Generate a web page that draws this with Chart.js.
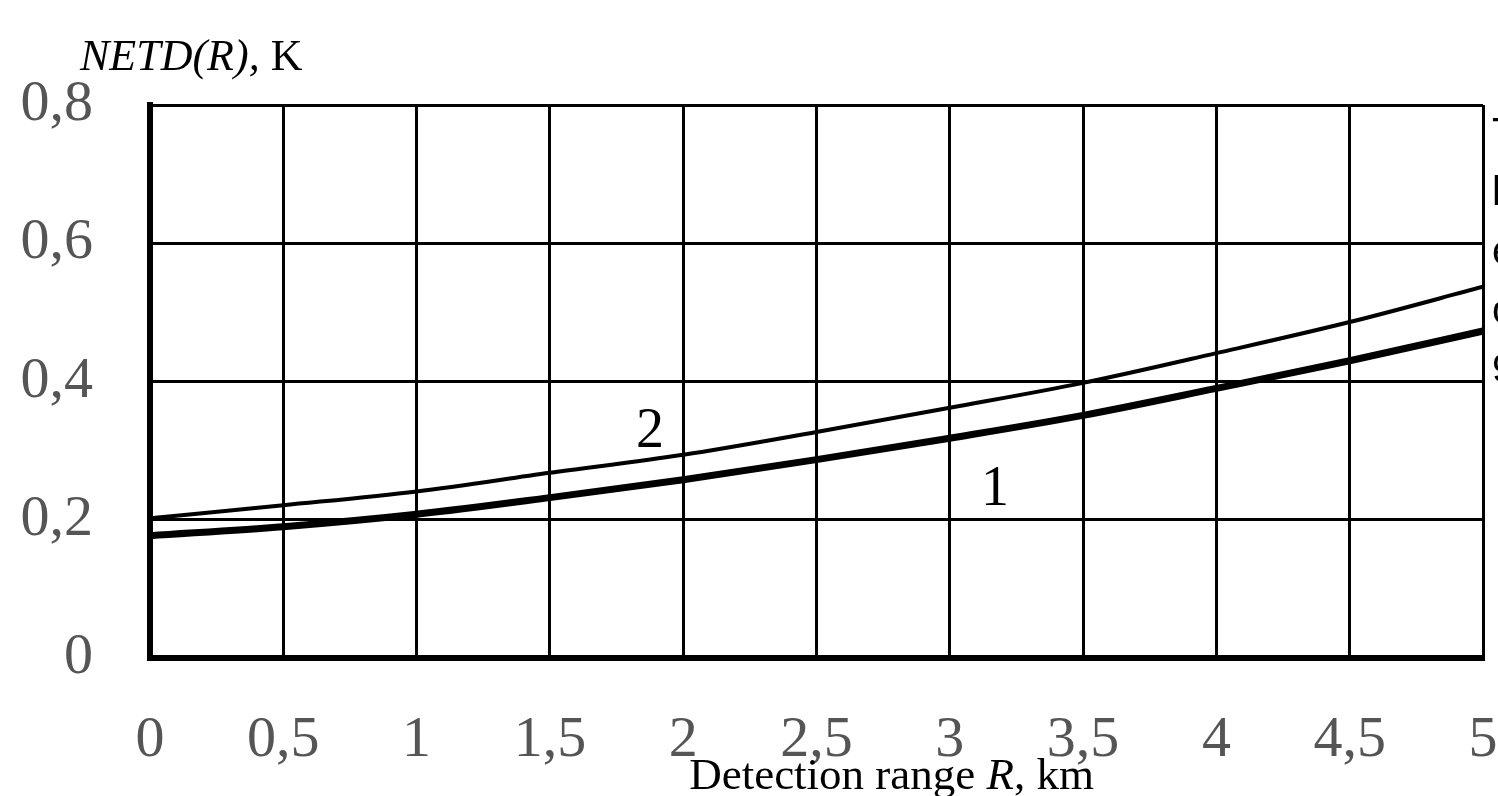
<!DOCTYPE html>
<html>
<head>
<meta charset="utf-8">
<script src="https://cdn.jsdelivr.net/npm/chart.js@4.4.1/dist/chart.umd.min.js"></script>
<style>
html, body { margin: 0; padding: 0; background: #fff; }
</style>
</head>
<body>
<canvas id="netdChart" width="1498" height="796"></canvas>
<script>
// detection range, km
var rangeKm = [0, 0.5, 1, 1.5, 2, 2.5, 3, 3.5, 4, 4.5, 5];
// NETD(R), K - curve 1 (thick) and curve 2 (thin)
var netdCurve1 = [0.177, 0.190, 0.208, 0.232, 0.258, 0.287, 0.318, 0.351, 0.390, 0.430, 0.473];
var netdCurve2 = [0.202, 0.221, 0.241, 0.268, 0.294, 0.327, 0.362, 0.398, 0.441, 0.486, 0.537];

var xTickLabels = ['0', '0,5', '1', '1,5', '2', '2,5', '3', '3,5', '4', '4,5', '5'];
var yTickLabels = ['0', '0,2', '0,4', '0,6', '0,8'];

// curve numbers placed in data coordinates
var curveTags = [
    { text: '1', x: 3.17, y: 0.242 },
    { text: '2', x: 1.875, y: 0.326 }
];
// letters of the neighbouring text column, cut by the right edge
var edgeLetters = ['T', 'h', 'e', 'o', '9'];

var serif = '"Liberation Serif", "Times New Roman", serif';

function toPoints(xs, ys) {
    return xs.map(function(x, i) { return { x: x, y: ys[i] }; });
}

function drawRuns(ctx, runs, size, x, y) {
    runs.forEach(function(r) {
        ctx.font = r.style + ' ' + size + 'px ' + serif;
        ctx.fillText(r.t, x, y);
        x += ctx.measureText(r.t).width;
    });
}

var textPlugin = {
    id: 'figureText',
    afterDraw: function(chart) {
        var ctx = chart.ctx;
        var xs = chart.scales.x;
        var ys = chart.scales.y;
        var area = chart.chartArea;
        ctx.save();
        ctx.fillStyle = '#000';
        ctx.textAlign = 'left';
        ctx.textBaseline = 'alphabetic';

        drawRuns(ctx, [
            { t: 'NETD(R),', style: 'italic' },
            { t: ' K', style: 'normal' }
        ], 44, area.left - 70, 70);

        drawRuns(ctx, [
            { t: 'Detection range ', style: 'normal' },
            { t: 'R', style: 'italic' },
            { t: ', km', style: 'normal' }
        ], 45, xs.getPixelForValue(2) + 6, 789);

        ctx.font = '56px ' + serif;
        ctx.textAlign = 'center';
        ctx.textBaseline = 'middle';
        curveTags.forEach(function(tag) {
            ctx.fillText(tag.text, xs.getPixelForValue(tag.x), ys.getPixelForValue(tag.y));
        });

        ctx.font = '40px "Liberation Sans", Arial, sans-serif';
        ctx.textAlign = 'left';
        ctx.textBaseline = 'alphabetic';
        edgeLetters.forEach(function(ch, i) {
            ctx.fillText(ch, area.right + 9, 146 + i * 59);
        });
        ctx.restore();
    }
};

var tickFont = { family: serif, size: 58 };

var netdChartOptions = {
    type: 'line',
    data: {
        datasets: [{
            label: '1',
            data: toPoints(rangeKm, netdCurve1),
            borderColor: '#000',
            borderWidth: 7,
            pointRadius: 0,
            fill: false,
            cubicInterpolationMode: 'monotone'
        }, {
            label: '2',
            data: toPoints(rangeKm, netdCurve2),
            borderColor: '#000',
            borderWidth: 4,
            pointRadius: 0,
            fill: false,
            cubicInterpolationMode: 'monotone'
        }]
    },
    options: {
        responsive: false,
        animation: false,
        devicePixelRatio: 1,
        layout: {
            padding: { top: 105, right: 15, left: 0, bottom: 0 }
        },
        plugins: {
            legend: { display: false },
            tooltip: { enabled: false }
        },
        scales: {
            x: {
                type: 'linear',
                min: 0,
                max: 5,
                ticks: {
                    stepSize: 0.5,
                    autoSkip: false,
                    maxRotation: 0,
                    padding: 48,
                    color: '#555',
                    font: tickFont,
                    callback: function(v) { return xTickLabels[Math.round(v * 2)]; }
                },
                grid: { color: '#000', lineWidth: 3, drawTicks: false },
                border: { color: '#000', width: 6 },
                afterFit: function(scale) {
                    scale.height = 138;
                    scale.paddingLeft = 0;
                    scale.paddingRight = 0;
                }
            },
            y: {
                type: 'linear',
                min: 0,
                max: 0.8,
                ticks: {
                    stepSize: 0.2,
                    padding: 57,
                    color: '#555',
                    font: tickFont,
                    callback: function(v) { return yTickLabels[Math.round(v * 5)]; }
                },
                grid: { color: '#000', lineWidth: 3, drawTicks: false },
                border: { color: '#000', width: 6 },
                afterFit: function(scale) {
                    scale.width = 150;
                    scale.paddingTop = 0;
                    scale.paddingBottom = 0;
                }
            }
        }
    },
    plugins: [textPlugin]
};

var chart = new Chart(document.getElementById('netdChart'), netdChartOptions);
</script>
</body>
</html>
